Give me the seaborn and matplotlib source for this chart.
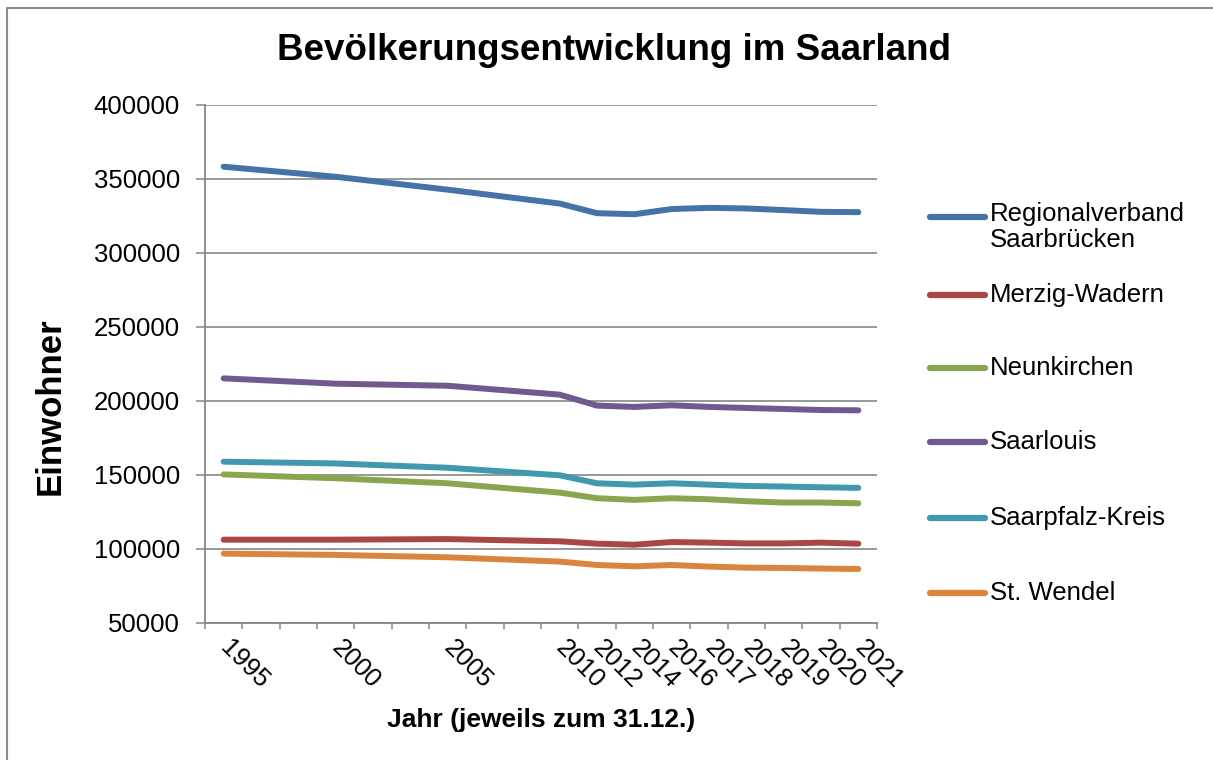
import numpy as np
import pandas as pd
import seaborn as sns
import matplotlib.pyplot as plt
from matplotlib.lines import Line2D
from matplotlib.ticker import FuncFormatter

# categories on the x axis (blank slots keep the Excel spacing)
categories = ['1995', '', '', '2000', '', '', '2005', '', '', '2010',
              '2012', '2014', '2016', '2017', '2018', '2019', '2020', '2021']
years = ['1995', '2000', '2005', '2010', '2012', '2014', '2016', '2017',
         '2018', '2019', '2020', '2021']

kreise = ['Regionalverband\nSaarbrücken', 'Merzig-Wadern', 'Neunkirchen',
          'Saarlouis', 'Saarpfalz-Kreis', 'St. Wendel']
saarbruecken = [358300, 351500, 342800, 333400, 326900, 326200, 329700, 330500, 330100, 329000, 327800, 327600]
merzig = [106300, 106300, 106700, 105200, 103600, 102900, 104700, 104300, 103800, 103800, 104300, 103600]
neunkirchen = [150400, 147800, 144400, 138100, 134300, 133200, 134300, 133600, 132300, 131400, 131400, 130900]
saarlouis = [215300, 211700, 210300, 204300, 196900, 196000, 197100, 196000, 195300, 194600, 193900, 193700]
saarpfalz = [159000, 157800, 154900, 149800, 144400, 143500, 144400, 143500, 142600, 142200, 141700, 141300]
st_wendel = [96900, 96000, 94400, 91500, 89200, 88300, 89200, 88100, 87400, 87200, 86800, 86500]
colors = ['#4572A7', '#AA4643', '#89A54E', '#71588F', '#4198AF', '#DB843D']

series = [saarbruecken, merzig, neunkirchen, saarlouis, saarpfalz, st_wendel]
pos = [categories.index(y) for y in years]
df = pd.concat([pd.DataFrame({'pos': pos, 'Einwohner': vals, 'Kreis': name})
                for name, vals in zip(kreise, series)], ignore_index=True)

sns.set_style('white')
plt.rcParams['font.family'] = ['Liberation Sans', 'DejaVu Sans']
plt.rcParams['text.color'] = 'black'
plt.rcParams['axes.labelcolor'] = 'black'

W, H = 1213, 760
fig, ax = plt.subplots(figsize=(W / 100, H / 100), dpi=100)
fig.subplots_adjust(left=205 / W, right=877 / W, top=1 - 105 / H, bottom=1 - 623 / H)

sns.lineplot(data=df, x='pos', y='Einwohner', hue='Kreis', palette=colors,
             linewidth=4.3, legend=False, ax=ax)
for ln in ax.get_lines():
    ln.set_solid_capstyle('round')
    ln.set_solid_joinstyle('round')

grey = '#868686'
ax.set_ylim(50000, 400000)
ax.set_yticks(range(50000, 400001, 50000))
ax.yaxis.set_major_formatter(FuncFormatter(lambda v, p: f'{int(v)}'))
ax.yaxis.grid(True, color=grey, linewidth=1.2)
ax.set_axisbelow(True)
ax.tick_params(axis='y', length=6.5, width=1.1, color=grey, labelcolor='black',
               labelsize=18.5, pad=11.5, left=True)

ax.set_xlim(-0.5, len(categories) - 0.5)
ax.set_xticks(np.arange(len(categories) + 1) - 0.5)
ax.set_xticklabels([])
ax.tick_params(axis='x', which='major', length=4.5, width=1.1, color=grey, bottom=True)
ax.set_xticks(np.arange(len(categories)), minor=True)
ax.set_xticklabels(categories, minor=True, rotation=-45, ha='left', va='center',
                   rotation_mode='anchor', fontsize=18.5, color='black')
ax.tick_params(axis='x', which='minor', length=0, pad=15)

for s in ['top', 'right']:
    ax.spines[s].set_visible(False)
for s in ['left', 'bottom']:
    ax.spines[s].set_color(grey)
    ax.spines[s].set_linewidth(1.3)

ax.set_xlabel('Jahr (jeweils zum 31.12.)', fontsize=19, fontweight='bold', va='center')
ax.xaxis.set_label_coords(0.5, -(720 - 623) / 518)
ax.set_ylabel('Einwohner', fontsize=25, fontweight='bold', va='center')
ax.yaxis.set_label_coords((50 - 205) / 672, (623 - 406) / 518)

fig.text(614 / W, 1 - 51 / H, 'Bevölkerungsentwicklung im Saarland',
         ha='center', va='center', fontsize=26.5, fontweight='bold')

# legend to the right, Excel style
leg_y = [217, 295, 368, 442, 518, 593]
for name, c, y in zip(kreise, colors, leg_y):
    fig.add_artist(Line2D([930 / W, 985 / W], [1 - y / H, 1 - y / H], color=c,
                          linewidth=4.5, solid_capstyle='round'))
    if '\n' in name:
        fig.text(990 / W, 1 - (y - 15) / H, name, ha='left', va='top',
                 fontsize=18.5, linespacing=1.1)
    else:
        fig.text(990 / W, 1 - y / H, name, ha='left', va='center', fontsize=18.5)

# chart area border
fig.add_artist(Line2D([7 / W, 7 / W], [0, 1 - 8 / H], color='#8c8c8c', linewidth=1.5))
fig.add_artist(Line2D([7 / W, 1], [1 - 8 / H, 1 - 8 / H], color='#8c8c8c', linewidth=1.5))

fig.savefig('out.png', dpi=100)
